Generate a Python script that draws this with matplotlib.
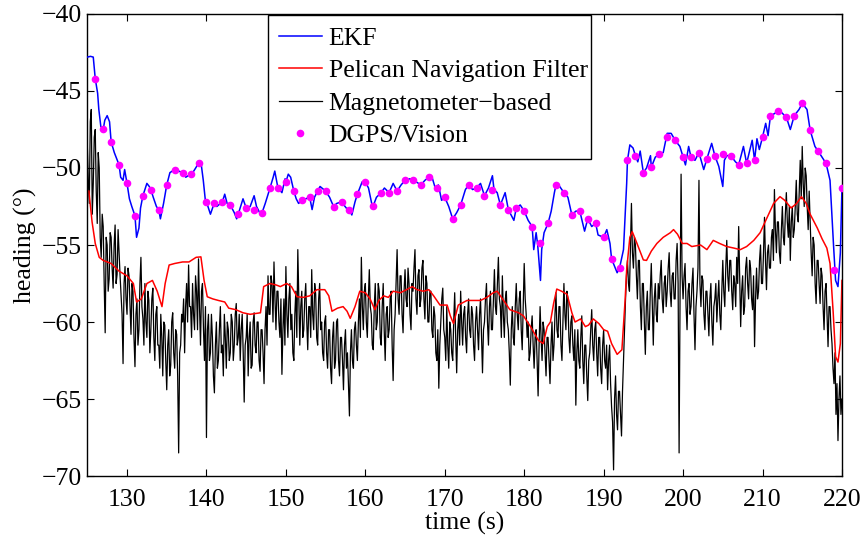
import numpy as np
import matplotlib
matplotlib.use("Agg")
from matplotlib import pyplot as plt

plt.rcParams['font.family'] = ['Liberation Serif', 'DejaVu Serif']

# EKF heading (deg)
ekf_t = [125.0, 125.4, 125.75, 126.0, 126.3, 126.45, 126.7, 127.0, 127.2, 127.5, 127.8,
         128.0, 128.4, 128.7, 129.0, 129.2, 129.5, 129.7, 130.0, 130.3, 130.6, 131.0,
         131.2, 131.5, 131.7, 132.0, 132.5, 132.8, 133.0, 133.3, 133.7, 134.0, 134.2,
         134.6, 135.0, 135.4, 136.0, 136.5, 137.0, 137.4, 138.0, 138.4, 139.0, 139.3,
         139.6, 139.9, 140.0, 140.5, 141.0, 141.3, 142.0, 142.3, 142.6, 143.0, 143.5,
         143.8, 144.0, 144.6, 145.0, 145.5, 146.0, 146.3, 146.8, 147.0, 147.4, 148.0,
         148.4, 148.6, 149.0, 149.5, 149.9, 150.0, 150.3, 150.6, 151.0, 151.3, 151.6,
         152.0, 152.5, 153.0, 153.3, 153.6, 154.0, 154.3, 155.0, 155.5, 156.0, 156.4,
         157.0, 157.6, 158.0, 158.3, 158.7, 159.0, 159.6, 160.0, 160.4, 160.8, 161.0,
         161.4, 162.0, 162.4, 163.0, 163.5, 164.0, 164.5, 165.0, 165.6, 166.0, 166.4,
         167.0, 167.5, 168.0, 168.4, 168.8, 169.2, 169.6, 170.0, 170.5, 171.0, 171.5,
         172.0, 172.6, 173.0, 173.5, 174.0, 174.5, 175.0, 175.5, 176.0, 176.2, 176.6,
         177.0, 177.6, 178.0, 178.7, 179.0, 179.5, 180.0, 180.5, 181.0, 181.2, 181.5,
         181.7, 182.05, 182.2, 182.5, 183.0, 183.4, 183.8, 184.0, 184.2, 184.6, 185.0,
         185.5, 186.0, 186.5, 187.0, 187.6, 188.0, 188.5, 189.0, 189.3, 190.0, 190.4,
         190.8, 191.0, 191.7, 192.0, 192.5, 192.9, 193.0, 193.3, 193.7, 194.0, 194.3,
         194.6, 195.0, 195.4, 195.9, 196.0, 196.5, 197.0, 197.5, 198.0, 198.5, 199.0,
         199.6, 200.0, 200.3, 200.7, 201.0, 201.5, 202.0, 202.6, 203.0, 203.6, 204.0,
         204.5, 205.0, 205.2, 205.5, 206.0, 206.6, 207.0, 207.6, 208.0, 208.7, 209.0,
         209.3, 209.6, 210.0, 210.4, 210.7, 211.0, 211.4, 212.0, 212.4, 213.0, 213.5,
         214.0, 214.6, 215.0, 215.6, 216.0, 216.6, 217.0, 217.5, 218.0, 218.5, 218.95,
         219.2, 219.5, 219.8, 220.0]
ekf_y = [-42.8, -42.75, -42.8, -44.2, -45.15, -46.2, -47.3, -47.5, -46.9, -46.6, -47.0,
         -48.3, -49.0, -49.4, -49.8, -50.6, -50.8, -50.1, -51.0, -52.0, -52.5, -53.1,
         -54.5, -53.9, -52.6, -51.8, -51.0, -51.2, -51.4, -51.9, -52.5, -52.7, -53.3,
         -52.3, -51.1, -50.3, -50.1, -50.2, -50.3, -50.6, -50.4, -50.2, -49.7, -49.6,
         -50.8, -52.3, -52.2, -53.0, -52.25, -52.5, -52.2, -51.7, -52.3, -52.4, -52.9,
         -53.3, -53.0, -52.0, -52.6, -52.5, -51.8, -52.5, -53.0, -52.9, -52.3, -51.3,
         -50.6, -50.2, -51.3, -51.6, -50.7, -50.9, -50.4, -50.6, -51.5, -52.0, -52.3,
         -52.1, -52.0, -51.9, -52.7, -51.9, -51.5, -51.2, -51.5, -51.9, -52.5, -52.3,
         -52.2, -52.6, -52.7, -53.05, -52.2, -51.7, -50.9, -50.9, -51.3, -52.3, -52.45,
         -51.9, -51.6, -51.3, -51.6, -51.0, -51.5, -51.1, -50.8, -50.7, -50.8, -50.9,
         -51.1, -50.8, -50.6, -50.6, -51.3, -51.1, -52.1, -51.9, -52.5, -53.3, -52.9,
         -52.4, -51.4, -51.1, -51.4, -51.3, -51.0, -51.8, -51.3, -50.5, -51.4, -51.6,
         -52.4, -51.6, -52.7, -53.4, -52.6, -52.4, -52.8, -53.4, -53.8, -55.3, -54.2,
         -55.0, -57.3, -55.3, -54.2, -53.6, -52.8, -51.6, -51.1, -51.0, -51.3, -51.6,
         -51.9, -53.05, -52.8, -52.8, -54.1, -53.3, -53.8, -53.6, -54.35, -54.5, -54.0,
         -54.9, -55.9, -56.8, -56.5, -55.3, -51.0, -49.5, -48.5, -48.7, -49.2, -49.6,
         -48.9, -50.3, -50.0, -49.2, -49.95, -49.3, -49.1, -49.0, -47.75, -47.75, -48.2,
         -48.6, -49.3, -49.8, -48.6, -49.3, -49.5, -49.0, -50.1, -49.4, -48.4, -49.2,
         -49.9, -51.2, -49.5, -49.2, -49.2, -49.6, -49.8, -48.6, -49.7, -48.2, -49.5,
         -48.1, -48.8, -48.0, -47.1, -47.9, -46.6, -46.5, -46.3, -46.4, -46.7, -47.5,
         -46.6, -46.2, -45.8, -46.2, -47.55, -48.6, -48.9, -49.3, -49.7, -50.8, -55.1,
         -57.3, -57.7, -55.5, -51.3]

# Pelican navigation filter
pnf_t = [125.2, 125.6, 126.0, 126.5, 127.0, 128.0, 129.0, 130.0, 130.8, 131.2, 131.8,
         132.5, 133.2, 133.8, 134.4, 134.8, 135.3, 136.0, 137.0, 137.8, 138.7, 139.3,
         139.7, 140.1, 140.8, 141.5, 142.3, 142.8, 143.7, 144.6, 145.5, 146.8, 147.2,
         148.0, 148.8, 149.3, 150.1, 150.7, 151.4, 152.2, 153.0, 153.9, 154.9, 155.4,
         155.8, 156.5, 157.2, 157.7, 158.1, 158.7, 159.3, 160.0, 160.6, 161.2, 161.7,
         162.3, 162.9, 163.5, 164.4, 165.2, 165.9, 166.5, 167.3, 168.0, 168.6, 169.4,
         170.3, 170.7, 171.1, 171.7, 172.8, 174.5, 175.3, 176.1, 176.6, 177.4, 178.2,
         179.3, 179.9, 180.8, 181.8, 182.4, 182.9, 183.3, 183.7, 184.1, 184.7, 185.4,
         186.0, 186.4, 187.1, 187.7, 188.1, 188.7, 189.4, 190.0, 190.5, 191.0, 191.7,
         192.3, 192.7, 192.9, 193.3, 193.6, 194.2, 195.0, 195.4, 196.0, 196.7, 197.5,
         198.4, 198.8, 199.3, 199.9, 200.5, 201.1, 202.2, 203.0, 203.8, 204.6, 205.5,
         206.4, 207.2, 208.0, 208.9, 209.7, 210.6, 211.4, 212.2, 212.8, 213.6, 214.3,
         214.9, 215.5, 216.0, 216.9, 217.5, 218.1, 218.5, 218.9, 219.2, 219.5, 219.8,
         220.0]
pnf_y = [-51.5, -53.5, -54.9, -55.8, -56.0, -56.2, -56.7, -57.0, -57.5, -58.7, -58.5,
         -57.5, -57.3, -58.0, -59.0, -57.5, -56.3, -56.2, -56.1, -56.1, -55.8, -55.77,
         -57.3, -58.36, -58.5, -58.6, -58.7, -59.1, -59.2, -59.4, -59.5, -59.4, -57.7,
         -57.5, -57.6, -57.7, -57.5, -57.7, -58.36, -58.4, -58.3, -57.9, -57.9, -58.3,
         -59.3, -59.1, -59.0, -59.3, -59.76, -59.0, -58.0, -58.1, -58.5, -59.2, -58.6,
         -58.3, -58.4, -58.0, -58.1, -57.9, -57.7, -57.9, -58.0, -57.9, -58.3, -58.9,
         -58.9, -59.6, -60.1, -58.9, -58.6, -58.6, -58.4, -58.1, -58.0, -58.6, -59.2,
         -59.4, -59.6, -60.3, -61.2, -61.4, -60.3, -60.0, -58.8, -57.86, -58.0, -58.2,
         -59.4, -60.0, -59.8, -60.3, -60.2, -59.8, -60.1, -60.5, -60.6, -61.4, -62.1,
         -61.8, -58.6, -56.6, -54.5, -54.13, -54.9, -55.97, -56.0, -55.4, -54.9, -54.5,
         -54.2, -54.0, -54.3, -54.9, -54.9, -55.1, -55.0, -55.3, -54.7, -54.9, -55.1,
         -55.2, -55.3, -55.1, -54.7, -54.2, -53.2, -52.3, -51.86, -52.1, -52.6, -52.3,
         -51.86, -52.3, -53.0, -53.9, -54.6, -55.2, -56.2, -59.4, -62.25, -62.6, -61.4,
         -57.3]

# magnetometer-based heading, one row per second (8 samples/s)
mag_y = [
    -48.5, -50.8, -52.3, -47.0, -46.2, -53.0, -51.0, -48.0,
    -47.5, -51.5, -53.6, -49.0, -50.0, -54.5, -55.8, -53.0,
    -53.8, -57.5, -60.7, -54.5, -55.0, -58.0, -57.2, -54.2,
    -54.5, -56.5, -57.8, -55.0, -53.7, -57.5, -56.9, -54.0,
    -55.5, -57.0, -58.3, -59.5, -62.7, -57.5, -56.4, -58.5,
    -59.5, -56.5, -57.0, -59.0, -60.8, -57.5, -58.0, -61.0,
    -62.9, -59.5, -58.5, -61.5, -60.5, -57.5, -55.8, -59.0,
    -59.8, -61.5, -57.5, -60.0, -61.0, -58.0, -58.6, -62.0,
    -60.5, -58.5, -57.8, -61.0, -62.5, -59.5, -59.0, -61.5,
    -61.5, -63.0, -59.5, -61.0, -63.5, -60.0, -60.2, -62.5,
    -64.4, -61.5, -60.5, -63.5, -62.8, -60.0, -59.4, -62.0,
    -63.0, -60.5, -60.8, -63.5, -68.5, -62.0, -61.5, -59.5,
    -60.0, -58.5, -62.0, -59.0, -57.5, -60.0, -56.3, -59.0,
    -59.0, -61.0, -57.5, -59.5, -60.5, -57.0, -58.0, -60.5,
    -55.9, -59.0, -61.5, -58.0, -57.5, -60.5, -62.5, -59.0,
    -67.5, -60.5, -59.5, -62.5, -62.0, -59.5, -61.0, -63.5,
    -64.6, -61.5, -60.0, -63.0, -62.5, -60.5, -59.0, -62.0,
    -61.5, -63.5, -59.5, -61.0, -63.0, -60.0, -60.5, -62.5,
    -62.0, -59.5, -60.0, -62.5, -61.5, -59.5, -58.8, -61.5,
    -61.0, -59.5, -62.5, -60.5, -59.5, -62.0, -65.2, -61.5,
    -61.0, -59.5, -63.5, -61.0, -60.0, -63.0, -62.8, -60.0,
    -59.4, -61.5, -62.0, -60.0, -60.0, -62.5, -63.2, -60.5,
    -60.5, -62.0, -64.0, -60.5, -59.0, -61.5, -57.0, -59.5,
    -59.5, -57.0, -57.5, -60.0, -56.1, -58.5, -60.5, -58.0,
    -58.0, -60.0, -61.0, -58.5, -63.4, -60.5, -58.5, -61.5,
    -56.4, -59.5, -61.0, -58.5, -57.5, -60.5, -59.5, -62.0,
    -62.5, -59.5, -58.0, -61.0, -55.3, -58.5, -61.5, -59.0,
    -58.0, -61.0, -60.5, -58.5, -57.5, -60.0, -61.8, -59.0,
    -59.0, -61.0, -56.6, -59.5, -60.5, -57.5, -58.2, -61.0,
    -61.5, -58.5, -57.5, -60.5, -60.0, -62.0, -62.5, -60.0,
    -59.6, -62.0, -63.0, -60.5, -60.5, -63.0, -64.0, -61.0,
    -60.0, -63.0, -62.5, -60.0, -59.8, -62.5, -63.5, -61.0,
    -61.0, -62.5, -64.4, -61.5, -60.5, -63.0, -62.0, -64.0,
    -66.1, -62.0, -60.5, -62.5, -63.0, -60.5, -60.0, -61.5,
    -62.5, -60.0, -58.5, -61.0, -55.8, -59.0, -60.5, -58.0,
    -57.5, -60.0, -61.0, -58.5, -56.6, -59.0, -59.5, -61.5,
    -61.8, -59.0, -57.5, -60.5, -60.0, -57.5, -58.0, -61.0,
    -61.5, -59.0, -57.5, -60.5, -62.5, -59.5, -59.0, -61.0,
    -60.5, -58.5, -58.0, -61.5, -63.8, -60.5, -59.5, -57.5,
    -55.3, -58.5, -59.5, -57.0, -57.0, -59.5, -60.7, -58.0,
    -56.6, -58.5, -59.0, -56.5, -57.5, -59.5, -60.5, -57.5,
    -58.0, -56.5, -55.3, -58.5, -59.5, -57.0, -56.6, -59.0,
    -58.5, -56.5, -56.0, -58.5, -59.8, -57.0, -57.5, -60.0,
    -60.0, -58.0, -58.0, -60.5, -61.0, -59.0, -59.6, -62.0,
    -62.5, -60.5, -64.3, -61.5, -60.0, -58.5, -57.8, -60.5,
    -61.0, -62.5, -59.0, -61.5, -63.0, -60.0, -60.5, -62.0,
    -62.5, -60.0, -58.1, -61.0, -63.3, -60.5, -59.5, -61.5,
    -58.0, -60.0, -61.5, -59.5, -59.0, -61.0, -62.0, -59.5,
    -58.5, -60.5, -61.0, -59.0, -59.5, -61.5, -62.5, -60.0,
    -59.0, -60.5, -61.8, -59.5, -58.5, -61.0, -63.3, -60.5,
    -60.0, -58.5, -57.5, -60.0, -61.5, -59.0, -58.0, -60.5,
    -60.5, -58.5, -56.6, -59.0, -59.5, -57.5, -55.8, -58.5,
    -59.0, -61.0, -57.0, -59.5, -61.0, -58.5, -58.0, -60.0,
    -60.5, -62.0, -64.1, -60.5, -59.0, -61.0, -61.5, -59.0,
    -57.5, -59.5, -60.5, -58.5, -58.0, -60.5, -61.8, -59.0,
    -56.2, -58.5, -59.5, -61.0, -60.0, -62.5, -62.0, -60.5,
    -59.6, -61.5, -63.0, -61.0, -60.5, -62.5, -64.8, -61.5,
    -59.0, -61.0, -62.5, -60.0, -60.5, -62.0, -63.5, -61.0,
    -61.0, -62.5, -64.0, -61.5, -60.0, -62.5, -61.5, -59.5,
    -58.1, -60.5, -61.0, -59.0, -59.0, -61.5, -62.5, -60.0,
    -57.5, -59.5, -60.5, -58.0, -58.5, -61.0, -62.0, -60.0,
    -59.6, -61.5, -62.5, -60.5, -65.4, -62.0, -60.5, -62.5,
    -63.0, -61.0, -59.6, -62.5, -64.0, -61.5, -61.5, -63.5,
    -65.1, -62.5, -62.0, -60.5, -59.2, -61.5, -62.5, -60.5,
    -60.0, -62.0, -63.5, -61.0, -61.0, -63.0, -64.0, -61.5,
    -60.5, -62.5, -63.0, -61.5, -64.4, -62.5, -61.5, -64.0,
    -65.5, -66.5, -69.6, -65.0, -63.5, -66.0, -67.0, -64.5,
    -64.5, -66.0, -67.4, -64.5, -62.5, -60.5, -58.6, -57.0,
    -56.0, -57.5, -58.0, -55.0, -52.3, -55.5, -56.5, -54.5,
    -55.0, -57.0, -58.5, -56.0, -56.0, -59.0, -60.5, -57.5,
    -57.5, -60.0, -62.1, -59.0, -58.0, -60.5, -60.5, -58.0,
    -56.2, -59.0, -61.5, -58.5, -57.5, -59.5, -60.0, -57.5,
    -58.5, -57.0, -56.0, -58.5, -59.4, -57.5, -57.0, -59.0,
    -58.0, -56.5, -55.5, -58.0, -59.0, -57.0, -56.8, -58.5,
    -58.5, -56.0, -54.9, -57.5, -68.5, -58.0, -50.4, -57.0,
    -58.5, -57.0, -56.2, -59.0, -60.5, -58.0, -57.5, -59.5,
    -59.0, -57.5, -56.5, -59.5, -61.8, -59.0, -58.0, -56.5,
    -50.8, -57.5, -59.0, -57.0, -57.3, -59.5, -60.5, -58.0,
    -58.0, -59.5, -60.9, -58.5, -57.5, -60.0, -61.5, -59.0,
    -58.5, -57.5, -60.0, -58.5, -57.3, -59.5, -60.5, -58.0,
    -56.0, -58.0, -59.0, -56.5, -54.7, -57.0, -58.0, -56.0,
    -56.0, -58.0, -59.2, -57.0, -57.5, -59.0, -55.8, -57.5,
    -53.8, -57.0, -60.3, -58.0, -57.0, -59.5, -59.0, -56.5,
    -55.8, -57.5, -58.5, -56.0, -56.5, -58.5, -59.2, -57.0,
    -61.6, -58.5, -56.5, -58.5, -58.0, -56.0, -55.0, -57.5,
    -57.5, -55.5, -53.2, -56.0, -57.9, -55.5, -55.0, -56.5,
    -56.5, -54.5, -54.0, -56.0, -51.4, -54.0, -55.5, -53.5,
    -53.5, -55.5, -56.2, -54.0, -52.5, -54.5, -55.0, -53.0,
    -51.6, -53.5, -54.5, -52.5, -56.0, -53.5, -52.5, -54.5,
    -54.0, -52.5, -50.8, -53.0, -53.5, -51.5, -49.5, -52.0,
    -48.6, -51.0, -52.5, -50.0, -50.5, -52.5, -54.0, -51.5,
    -53.6, -55.5, -57.0, -54.5, -55.0, -57.5, -58.8, -56.0,
    -56.0, -57.5, -58.8, -56.5, -57.0, -59.0, -60.5, -58.0,
    -57.5, -59.5, -61.6, -59.0, -59.0, -60.5, -61.4, -63.0,
    -64.0, -62.0, -66.0, -64.0, -67.7, -65.0, -63.5, -66.0,
    -65.0]
mag_t = 125 + 0.125 * np.arange(len(mag_y))

# DGPS/Vision reference, one per second from 126 s
dgps_y = [-44.2, -47.5, -48.3, -49.8, -50.95, -53.1, -51.8, -51.4, -52.7, -51.1,
          -50.1, -50.3, -50.4, -49.7, -52.2, -52.25, -52.2, -52.4, -53.0, -52.6,
          -52.7, -52.9, -51.3, -51.3, -50.9, -51.5, -52.1, -51.9, -51.5, -51.5,
          -52.5, -52.2, -52.7, -51.7, -50.9, -52.45, -51.6, -51.6, -51.5, -50.8,
          -50.8, -51.1, -50.6, -51.3, -51.9, -53.3, -52.4, -51.1, -51.3, -51.8,
          -51.4, -52.4, -52.7, -52.6, -52.8, -53.8, -54.9, -53.6, -51.1, -51.6,
          -53.05, -52.8, -53.3, -53.6, -54.5, -55.9, -56.5, -49.5, -49.2, -50.3,
          -49.95, -49.1, -48.0, -48.2, -49.3, -49.3, -49.0, -49.4, -49.2, -49.1,
          -49.2, -49.8, -49.7, -49.5, -48.0, -46.6, -46.3, -46.7, -46.6, -45.8,
          -47.55, -48.9, -49.7, -56.6, -51.3]
dgps_t = 126 + np.arange(len(dgps_y))

fig = plt.figure(figsize=(8.67, 5.38), dpi=100)
ax = fig.add_axes([0.1007, 0.1152, 0.8704, 0.8588])

h_mag, = ax.plot(mag_t, mag_y, color='k', lw=0.9, zorder=1)
h_pnf, = ax.plot(pnf_t, pnf_y, color='r', lw=1.1, zorder=2)
h_ekf, = ax.plot(ekf_t, ekf_y, color='b', lw=1.1, zorder=3)
h_dgps, = ax.plot(dgps_t, dgps_y, 'o', color='#ff00ff', ms=5.5, mec='none', zorder=4)

ax.set_xlim(125, 220)
ax.set_ylim(-70, -40)
ax.set_xticks(range(130, 221, 10))
ax.set_yticks(range(-70, -39, 5))
ax.tick_params(direction='in', top=True, right=True, length=5, width=0.8,
               labelsize=18.5, pad=4)
ax.tick_params(axis='x', pad=9)
for s in ax.spines.values():
    s.set_linewidth(1.0)

ax.set_xlabel('time (s)', fontsize=18.5, labelpad=1)
ax.set_ylabel('heading (°)', fontsize=18.5, labelpad=3)

leg = ax.legend([h_ekf, h_pnf, h_mag, h_dgps],
                ['EKF', 'Pelican Navigation Filter', 'Magnetometer−based', 'DGPS/Vision'],
                loc='upper left', bbox_to_anchor=(0.239, 0.997, 0.428, 0.0), mode='expand',
                fontsize=18.5, fancybox=False, framealpha=1, edgecolor='k',
                handlelength=1.65, handletextpad=0.27, labelspacing=0.37,
                borderpad=0.45, numpoints=1, borderaxespad=0)
leg.get_frame().set_linewidth(1.0)

fig.savefig('out.png', dpi=100)
